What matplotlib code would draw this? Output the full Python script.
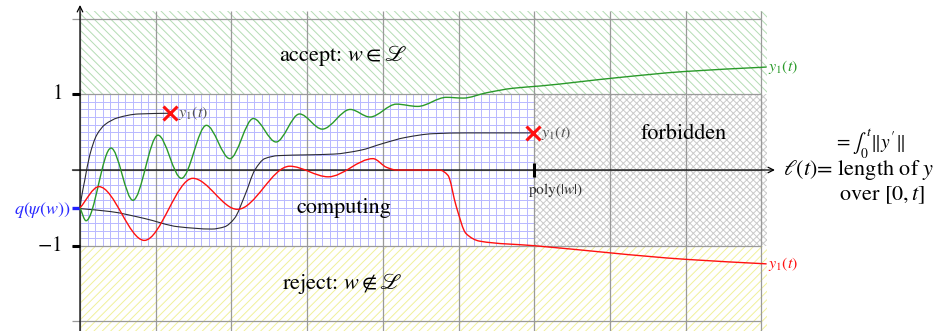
import numpy as np
import matplotlib
matplotlib.use("Agg")
import matplotlib.pyplot as plt
from matplotlib.path import Path
from matplotlib.patches import PathPatch, Rectangle

plt.rcParams['mathtext.fontset'] = 'stix'
plt.rcParams['font.family'] = ['STIXGeneral', 'DejaVu Serif']
plt.rcParams['hatch.linewidth'] = 0.7

# ---------------- data ----------------
black_a_x = [0.0, 0.02, 0.06, 0.13, 0.22, 0.33, 0.50, 0.77, 1.19]
black_a_y = [-0.50, -0.36, -0.15, 0.20, 0.46, 0.60, 0.69, 0.74, 0.75]

black_b_x = [0.0, 0.41, 0.85, 1.30, 1.74, 1.91, 2.04, 2.18, 2.31, 2.44, 2.62,
             3.00, 3.35, 3.70, 4.00, 4.30, 4.67, 5.11, 5.98]
black_b_y = [-0.51, -0.55, -0.64, -0.75, -0.78, -0.75, -0.64, -0.33, 0.00, 0.15, 0.19,
             0.20, 0.21, 0.26, 0.35, 0.43, 0.48, 0.49, 0.49]

green_x = [0.0, 0.08, 0.41, 0.70, 1.03, 1.34, 1.67, 1.98, 2.29, 2.59, 2.90, 3.20,
           3.57, 3.83, 4.18, 4.46, 4.84, 5.06, 5.37, 5.72, 6.08, 7.10, 7.97, 9.07]
green_y = [-0.50, -0.67, 0.29, -0.40, 0.46, -0.11, 0.59, 0.15, 0.68, 0.37, 0.74, 0.54,
           0.80, 0.70, 0.87, 0.84, 0.96, 0.95, 1.02, 1.08, 1.11, 1.22, 1.30, 1.36]

red_x = [0.0, 0.25, 0.85, 1.49, 2.08, 2.77, 3.28, 3.87, 4.05, 4.18, 4.75, 4.86,
         4.97, 5.10, 5.28, 6.00, 8.00, 9.07]
red_y = [-0.50, -0.22, -0.93, -0.11, -0.52, 0.05, -0.09, 0.15, 0.035, 0.0, 0.0, -0.07,
         -0.48, -0.84, -0.94, -1.00, -1.18, -1.24]

stop_marks_x = [1.19, 5.98]
stop_marks_y = [0.75, 0.49]

y_tick_values = [1, -1]
y_tick_labels = ['$1$', '$-1$']
start_value = -0.5
poly_value = 6

# ---------------- helpers ----------------
def smooth_path(xs, ys):
    """Shape-preserving cubic Bezier path through the read points."""
    x = np.asarray(xs, float)
    y = np.asarray(ys, float)
    h = np.diff(x)
    d = np.diff(y) / h
    n = len(x)
    m = np.zeros(n)
    for k in range(1, n - 1):
        if d[k - 1] * d[k] > 0:
            w1 = 2 * h[k] + h[k - 1]
            w2 = h[k] + 2 * h[k - 1]
            m[k] = (w1 + w2) / (w1 / d[k - 1] + w2 / d[k])
    m[0] = d[0]
    m[-1] = d[-1]
    verts = [(x[0], y[0])]
    codes = [Path.MOVETO]
    for k in range(n - 1):
        verts += [(x[k] + h[k] / 3, y[k] + m[k] * h[k] / 3),
                  (x[k + 1] - h[k] / 3, y[k + 1] - m[k + 1] * h[k] / 3),
                  (x[k + 1], y[k + 1])]
        codes += [Path.CURVE4] * 3
    return Path(verts, codes)

# ---------------- figure ----------------
fig = plt.figure(figsize=(9.41, 3.31), dpi=100)
ax = fig.add_axes([0, 0, 1, 1])
U = 75.7
ax.set_xlim(-80 / U, (941 - 80) / U)
ax.set_ylim((170 - 331) / U, 170 / U)
ax.axis('off')

XR = 9.08
YT, YB = 2.1, -2.2

# regions
ax.add_patch(Rectangle((0, 1), XR, YT - 1, facecolor='white', edgecolor='#b4dcb4',
                       hatch='\\' * 4, lw=0, zorder=1))
ax.add_patch(Rectangle((0, YB), XR, -1 - YB, facecolor='white', edgecolor='#f0f09a',
                       hatch='/' * 4, lw=0, zorder=1))
ax.add_patch(Rectangle((6, -1), XR - 6, 2, facecolor='white', edgecolor='#cacaca',
                       hatch='x' * 5, lw=0, zorder=1))

# fine blue grid
fine = np.round(np.arange(0, 6.001, 0.1), 3)
ax.vlines(fine, -1, 1, colors='#b8b8ff', lw=0.7, zorder=2)
fine_y = np.round(np.arange(-1, 1.001, 0.1), 3)
ax.hlines(fine_y, 0, 6, colors='#b8b8ff', lw=0.7, zorder=2)

# gray major grid
ax.vlines(np.arange(0, 10), YB, YT, colors='#9a9a9a', lw=0.9, zorder=3)
ax.hlines(np.arange(-2, 3), -0.1, 9, colors='#9a9a9a', lw=0.9, zorder=3)

# axes
ax.annotate('', xy=(9.18, 0), xytext=(-0.1, 0),
            arrowprops=dict(arrowstyle='->', lw=0.9, color='black', shrinkA=0, shrinkB=0),
            zorder=4)
ax.annotate('', xy=(0, 2.18), xytext=(0, YB),
            arrowprops=dict(arrowstyle='->', lw=0.9, color='black', shrinkA=0, shrinkB=0),
            zorder=4)

# ticks
for v, lab in zip(y_tick_values, y_tick_labels):
    ax.plot([-0.1, 0], [v, v], color='black', lw=2.2, solid_capstyle='butt', zorder=5)
    ax.text(-0.24, v, lab, ha='right', va='center', fontsize=15, zorder=6)
ax.plot([-0.1, 0], [start_value, start_value], color='#2020ff', lw=2.4,
        solid_capstyle='butt', zorder=5)
ax.text(-0.12, start_value - 0.03, r'$q(\psi(w))$', ha='right', va='center',
        fontsize=13, color='#2a2aff', zorder=6)
ax.plot([poly_value, poly_value], [-0.09, 0.09], color='black', lw=2.2,
        solid_capstyle='butt', zorder=5)
ax.text(poly_value + 0.28, -0.26, r'poly$(|w|)$', ha='center', va='center',
        fontsize=11, color='#333333', zorder=6)

# curves
for xs, ys, col, lw in [(black_a_x, black_a_y, '#2a2a33', 0.8),
                        (black_b_x, black_b_y, '#2a2a33', 0.8),
                        (green_x, green_y, '#2a9a2a', 1.0),
                        (red_x, red_y, '#ff1010', 1.0)]:
    ax.add_patch(PathPatch(smooth_path(xs, ys), facecolor='none', edgecolor=col,
                           lw=lw, zorder=7))

ax.plot(stop_marks_x, stop_marks_y, ls='none', marker='x', color='#ff1010',
        markersize=10, mew=2.2, zorder=8)
for sx, sy in zip(stop_marks_x, stop_marks_y):
    ax.text(sx + 0.11, sy, r'$y_1(t)$', ha='left', va='center', fontsize=11.5,
            color='#555555', zorder=8)
ax.text(green_x[-1] + 0.02, green_y[-1], r'$y_1(t)$', ha='left', va='center',
        fontsize=11.5, color='#2a9a2a', zorder=8)
ax.text(red_x[-1] + 0.02, red_y[-1], r'$y_1(t)$', ha='left', va='center',
        fontsize=11.5, color='#ff1010', zorder=8)

# region labels
ax.text(3.47, 1.51, r'accept: $w\in\mathscr{L}$', ha='center', va='center',
        fontsize=16, zorder=8)
ax.text(3.47, -1.5, r'reject: $w\notin\mathscr{L}$', ha='center', va='center',
        fontsize=16, zorder=8)
ax.text(3.49, -0.5, 'computing', ha='center', va='center', fontsize=16, zorder=8)
ax.text(7.98, 0.48, 'forbidden', ha='center', va='center', fontsize=16, zorder=8)

# right-hand annotation
ax.text(9.29, 0.0, r'$\ell(t)$= length of $y$', ha='left', va='center', fontsize=16)
ax.text(10.03, -0.33, r'over $[0,t]$', ha='left', va='center', fontsize=16)
ax.text(9.96, 0.35, r"$=\int_0^t\|y'\|$", ha='left', va='center', fontsize=14)

fig.savefig('out.png', dpi=100)
